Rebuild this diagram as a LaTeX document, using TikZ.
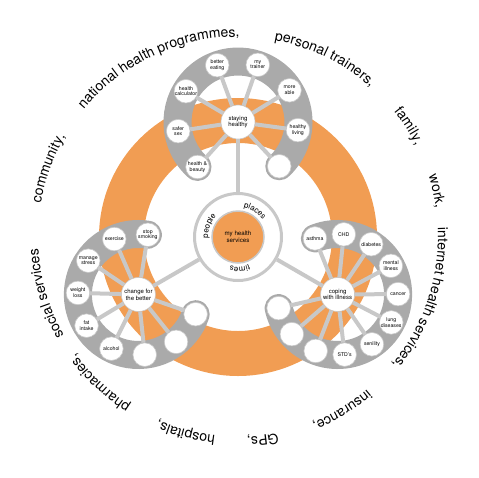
\documentclass[tikz,border=0pt]{standalone}
\usepackage{fontspec}
\setmainfont{TeX Gyre Heros}
\usetikzlibrary{decorations.text}
\definecolor{hsorange}{RGB}{241,157,83}
\definecolor{hsband}{RGB}{170,170,170}
\definecolor{hslight}{RGB}{200,200,200}
\newcommand\myouterfont{\fontsize{14}{14}\selectfont}
\newcommand\myringfont{\fontsize{8}{8}\selectfont}
\newcommand\hsarctext[4]{%
  \pgfmathsetmacro\hsastart{#1+#3}%
  \pgfmathsetmacro\hsaend{#1-#3}%
  \path[decorate, decoration={text along path, text align=center, text={#4}}]
    (\hsastart:#2) arc[start angle=\hsastart, end angle=\hsaend, radius=#2];}
\begin{document}
\begin{tikzpicture}[x=1pt,y=1pt,
  band/.style={draw=hsband, line width=28pt, line cap=round},
  smallc/.style={circle, fill=white, draw=hslight, line width=0.6pt, minimum size=23.6pt, inner sep=0pt},
  smalltext/.style={font=\fontsize{5.2}{5.6}\selectfont, align=center, inner sep=0pt, text=black},
  hub/.style={circle, fill=white, draw=hslight, line width=0.6pt, minimum size=34pt, inner sep=0pt, align=center, font=\fontsize{6}{6.8}\selectfont},
  spoke/.style={draw=hslight, line width=4pt},
  conn/.style={draw=hslight, line width=4pt}
]
\useasboundingbox (0,0) rectangle (479,-477);
\begin{scope}[shift={(238,-237)}]
  % orange ring
  \draw[hsorange, line width=45pt] (0,0) circle[radius=116.5];

  % bands
  \begin{scope}[shift={(90:115)}]
    \draw[band] (228:60.5) arc[start angle=228, end angle=-47, radius=60.5];
  \end{scope}
  \begin{scope}[shift={(210:115)}]
    \draw[band] (81:60.5) arc[start angle=81, end angle=341, radius=60.5];
  \end{scope}
  \begin{scope}[shift={(330:115)}]
    \draw[band] (112:60.5) arc[start angle=112, end angle=-167, radius=60.5];
  \end{scope}

  % centre
  \node[circle, fill=white, draw=hslight, line width=3pt, minimum size=87pt, inner sep=0pt] (ring) at (0,0) {};
  \node[circle, fill=hsorange, draw=hslight, line width=1.5pt, minimum size=52pt, inner sep=0pt, align=center, font=\fontsize{6.2}{7}\selectfont] (core) at (0,0) {my health\\services};
  \hsarctext{159}{30}{60}{|\myringfont|people}
  \hsarctext{57}{30}{60}{|\myringfont|places}
  \hsarctext{-87}{30}{60}{|\myringfont|times}

  % staying healthy
  \begin{scope}[shift={(90:115)}]
    \node[hub] (sh) at (0,0) {staying\\healthy};
    \foreach \a/\t [count=\i] in {228/{health \&\\beauty}, 188.7/{safer\\sex}, 149.4/{health\\calculator}, 110.1/{better\\eating}, 70.9/{my\\trainer}, 31.6/{more\\able}, -7.7/{healthy\\living}, -47/{}}
      \node[smallc, label={[smalltext]center:\t}] (sh\i) at (\a:60.5) {};
    \foreach \i in {1,...,8} \draw[spoke] (sh) -- (sh\i);
  \end{scope}

  % change for the better
  \begin{scope}[shift={(210:115)}]
    \node[hub] (cb) at (0,0) {change for\\the better};
    \foreach \a/\t [count=\i] in {81/{stop\\smoking}, 113.5/{exercise}, 146/{manage\\stress}, 178.5/{weight\\loss}, 211/{fat\\intake}, 243.5/{alcohol}, 276/{}, 308.5/{}, 341/{}}
      \node[smallc, label={[smalltext]center:\t}] (cb\i) at (\a:60.5) {};
    \foreach \i in {1,...,9} \draw[spoke] (cb) -- (cb\i);
  \end{scope}

  % coping with illness
  \begin{scope}[shift={(330:115)}]
    \node[hub] (ci) at (0,0) {coping\\with illness};
    \foreach \a/\t [count=\i] in {112/{asthma}, 84.1/{CHD}, 56.2/{diabetes}, 28.3/{mental\\illness}, 0.4/{cancer}, -27.5/{lung\\diseases}, -55.4/{senility}, -83.3/{STD's}, -111.2/{}, -139.1/{}, -167/{}}
      \node[smallc, label={[smalltext]center:\t}] (ci\i) at (\a:60.5) {};
    \foreach \i in {1,...,11} \draw[spoke] (ci) -- (ci\i);
  \end{scope}

  % connectors to centre
  \draw[conn] (ring) -- (sh);
  \draw[conn] (ring) -- (cb);
  \draw[conn] (ring) -- (ci);

  % outer text
  \hsarctext{160}{200}{40}{|\myouterfont|community{,}}
  \hsarctext{115}{200}{40}{|\myouterfont|national health programmes{,}}
  \hsarctext{64}{200}{40}{|\myouterfont|personal trainers{,}}
  \hsarctext{33}{200}{40}{|\myouterfont|family{,}}
  \hsarctext{13}{200}{40}{|\myouterfont|work{,}}
  \hsarctext{-18.5}{200}{40}{|\myouterfont|internet health services{,}}
  \hsarctext{-59}{200}{40}{|\myouterfont|insurance{,}}
  \hsarctext{-83}{200}{40}{|\myouterfont|GPs{,}}
  \hsarctext{-105}{200}{40}{|\myouterfont|hospitals{,}}
  \hsarctext{-133.5}{200}{40}{|\myouterfont|pharmacies{,}}
  \hsarctext{196.5}{200}{40}{|\myouterfont|social services}
\end{scope}
\end{tikzpicture}
\end{document}
